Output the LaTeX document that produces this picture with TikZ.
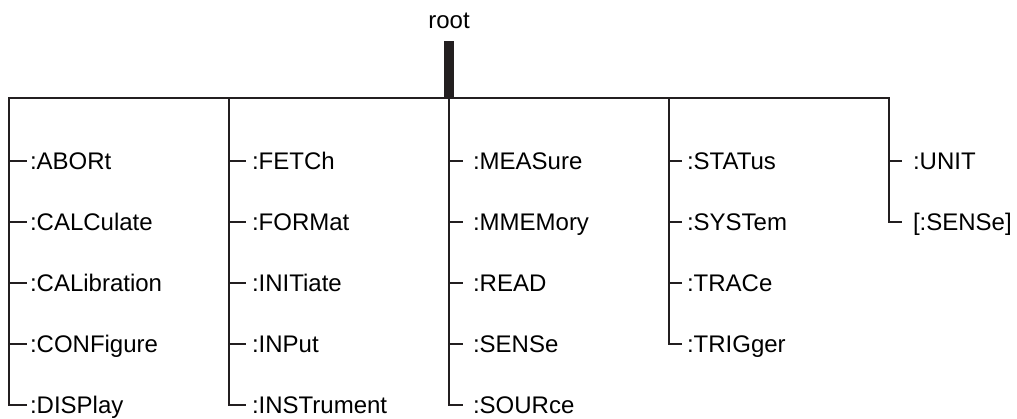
\documentclass[tikz,border=0pt]{standalone}
\usepackage{fontspec}
\setmainfont{Liberation Sans}
\usetikzlibrary{positioning, calc}
\definecolor{treeline}{RGB}{35, 31, 32}

\begin{document}
\begin{tikzpicture}[x=1pt, y=-1pt,
    cmd/.style={anchor=west, inner sep=0pt, font=\fontsize{24}{26}\selectfont,
      text height=17pt, text depth=0pt},
    branch/.style={draw=treeline, line width=2pt},
    stem/.style={draw=treeline, line width=10.5pt}]
  \useasboundingbox (0,0) rectangle (1017,418);

  % root and bus
  \node[cmd, anchor=south] (root) at (449, 29) {root};
  \coordinate (b1) at (9, 98);
  \coordinate (b2) at (229, 98);
  \coordinate (b3) at (449, 98);
  \coordinate (b4) at (669, 98);
  \coordinate (b5) at (889, 98);

  % column 1
  \node[cmd, outer xsep=3pt] (abort) at (27, 161) {:ABORt};
  \node[cmd, outer xsep=3pt] (calc) at (27, 222) {:CALCulate};
  \node[cmd, outer xsep=3pt] (cal) at (27, 283) {:CALibration};
  \node[cmd, outer xsep=3pt] (conf) at (27, 344) {:CONFigure};
  \node[cmd, outer xsep=3pt] (disp) at (27, 405) {:DISPlay};

  % column 2
  \node[cmd, outer xsep=6pt] (fetch) at (246, 161) {:FETCh};
  \node[cmd, outer xsep=6pt] (form) at (246, 222) {:FORMat};
  \node[cmd, outer xsep=6pt] (init) at (246, 283) {:INITiate};
  \node[cmd, outer xsep=6pt] (inp) at (246, 344) {:INPut};
  \node[cmd, outer xsep=6pt] (inst) at (246, 405) {:INSTrument};

  % column 3
  \node[cmd, outer xsep=10pt] (meas) at (463, 161) {:MEASure};
  \node[cmd, outer xsep=10pt] (mmem) at (463, 222) {:MMEMory};
  \node[cmd, outer xsep=10pt] (read) at (463, 283) {:READ};
  \node[cmd, outer xsep=10pt] (sens) at (463, 344) {:SENSe};
  \node[cmd, outer xsep=10pt] (sour) at (463, 405) {:SOURce};

  % column 4
  \node[cmd, outer xsep=5pt] (stat) at (682, 161) {:STATus};
  \node[cmd, outer xsep=5pt] (syst) at (682, 222) {:SYSTem};
  \node[cmd, outer xsep=5pt] (trac) at (682, 283) {:TRACe};
  \node[cmd, outer xsep=5pt] (trig) at (682, 344) {:TRIGger};

  % column 5
  \node[cmd, outer xsep=11pt] (unit) at (902, 161) {:UNIT};
  \node[cmd, outer xsep=11pt] (sense) at (902, 222) {[:SENSe]};

  % stem and bus
  \draw[stem, shorten <=12pt] (root.south) -- (b3);
  \draw[branch] (disp.west) -| (b1) -- (b5) |- (sense.west);
  \draw[branch] (b2) |- (inst.west);
  \draw[branch] (b3) |- (sour.west);
  \draw[branch] (b4) |- (trig.west);

  % ticks
  \foreach \n in {abort, calc, cal, conf}
    \draw[branch] (b1 |- \n.west) -- (\n.west);
  \foreach \n in {fetch, form, init, inp}
    \draw[branch] (b2 |- \n.west) -- (\n.west);
  \foreach \n in {meas, mmem, read, sens}
    \draw[branch] (b3 |- \n.west) -- (\n.west);
  \foreach \n in {stat, syst, trac}
    \draw[branch] (b4 |- \n.west) -- (\n.west);
  \draw[branch] (b5 |- unit.west) -- (unit.west);
\end{tikzpicture}
\end{document}
